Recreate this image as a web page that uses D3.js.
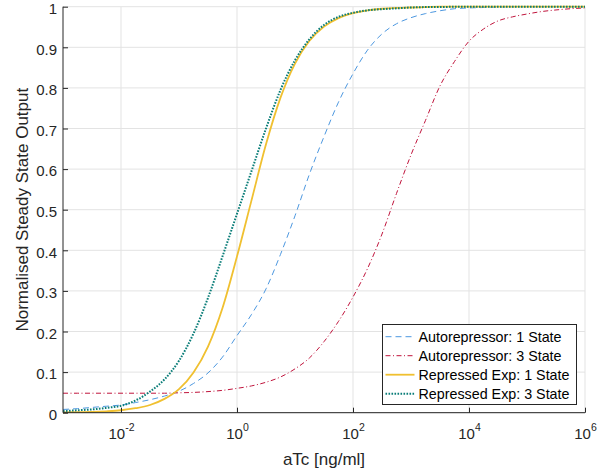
<!DOCTYPE html>
<html>
<head>
<meta charset="utf-8">
<script src="https://cdn.jsdelivr.net/npm/d3@7"></script>
<style>
  html, body { margin: 0; padding: 0; background: #fff; }
  svg { display: block; font-family: "Liberation Sans", Arial, Helvetica, sans-serif; }
</style>
</head>
<body>
<svg id="chart" width="613" height="470"></svg>
<script>
// aTc concentrations (ng/ml), quarter-decade steps from 1e-3 to 1e6
const doseExponents = [-3, -2.75, -2.5, -2.25, -2, -1.75, -1.5, -1.25, -1, -0.75, -0.5, -0.25,
  0, 0.25, 0.5, 0.75, 1, 1.25, 1.5, 1.75, 2, 2.25, 2.5, 2.75, 3, 3.25, 3.5, 3.75,
  4, 4.25, 4.5, 4.75, 5, 5.25, 5.5, 5.75, 6];
const aTc = doseExponents.map(e => Math.pow(10, e));

// Normalised steady state output for each model
const autorepressor1 = [0.008, 0.010, 0.013, 0.016, 0.019, 0.025, 0.032, 0.041, 0.053, 0.072, 0.098, 0.137,
  0.190, 0.242, 0.305, 0.390, 0.485, 0.588, 0.680, 0.765, 0.835, 0.893, 0.933, 0.958, 0.973, 0.983, 0.990, 0.995,
  0.997, 0.998, 0.999, 1.0, 1.0, 1.0, 1.0, 1.0, 1.0];
const autorepressor3 = [0.048, 0.048, 0.048, 0.048, 0.048, 0.048, 0.048, 0.048, 0.049, 0.050, 0.052, 0.055,
  0.060, 0.066, 0.075, 0.088, 0.108, 0.135, 0.175, 0.225, 0.285, 0.355, 0.440, 0.540, 0.635, 0.720, 0.805, 0.865,
  0.915, 0.945, 0.965, 0.975, 0.982, 0.988, 0.992, 0.995, 0.997];
const repressed1 = [0.001, 0.0015, 0.002, 0.0035, 0.006, 0.011, 0.019, 0.034, 0.058, 0.099, 0.163, 0.258,
  0.385, 0.523, 0.661, 0.776, 0.860, 0.916, 0.951, 0.972, 0.984, 0.991, 0.995, 0.997, 0.998, 0.999, 1.0, 1.0,
  1.0, 1.0, 1.0, 1.0, 1.0, 1.0, 1.0, 1.0, 1.0];
const repressed3 = [0.004, 0.006, 0.008, 0.012, 0.017, 0.030, 0.052, 0.082, 0.128, 0.195, 0.283, 0.385,
  0.490, 0.595, 0.700, 0.795, 0.868, 0.920, 0.955, 0.975, 0.985, 0.991, 0.994, 0.996, 0.998, 0.999, 0.999, 1.0,
  1.0, 1.0, 1.0, 1.0, 1.0, 1.0, 1.0, 1.0, 1.0];

const seriesNames = ["Autorepressor: 1 State", "Autorepressor: 3 State", "Repressed Exp: 1 State", "Repressed Exp: 3 State"];
const seriesValues = [autorepressor1, autorepressor3, repressed1, repressed3];

const xTickValues = [1e-2, 1e0, 1e2, 1e4, 1e6];
const xTickExponents = ["-2", "0", "2", "4", "6"];
const yTickValues = [0, 0.1, 0.2, 0.3, 0.4, 0.5, 0.6, 0.7, 0.8, 0.9, 1];
const yTickLabels = ["0", "0.1", "0.2", "0.3", "0.4", "0.5", "0.6", "0.7", "0.8", "0.9", "1"];

const xLabel = "aTc [ng/ml]";
const yLabel = "Normalised Steady State Output";

// line styling per series
const styles = [
  { color: "#4d98e0", width: 1, dash: "6,4" },
  { color: "#c0143c", width: 1, dash: "5,2.5,1,2.5" },
  { color: "#f0c030", width: 1.8, dash: null },
  { color: "#0a7d78", width: 2, dash: "1.6,1.4" }
];

const margin = { left: 63, right: 28, top: 6.7, bottom: 57.3 };
const W = 613, H = 470;
const svg = d3.select("#chart");

const x = d3.scaleLog().domain([1e-3, 1e6]).range([margin.left, W - margin.right]);
const y = d3.scaleLinear().domain([0, 1]).range([H - margin.bottom, margin.top]);

const axisColor = "#262626";
const gridColor = "#e3e3e3";

// grid lines
const grid = svg.append("g");
grid.selectAll("line.gx").data(xTickValues).join("line")
  .attr("x1", d => x(d)).attr("x2", d => x(d))
  .attr("y1", y(0)).attr("y2", y(1))
  .attr("stroke", gridColor).attr("stroke-width", 1);
grid.selectAll("line.gy").data(yTickValues).join("line")
  .attr("x1", x(1e-3)).attr("x2", x(1e6))
  .attr("y1", d => y(d)).attr("y2", d => y(d))
  .attr("stroke", gridColor).attr("stroke-width", 1);

// curves
const line = d3.line()
  .x((d, i) => x(aTc[i]))
  .y(d => y(d))
  .curve(d3.curveMonotoneX);

const plot = svg.append("g");
seriesValues.forEach((vals, k) => {
  const s = styles[k];
  plot.append("path")
    .datum(vals)
    .attr("d", line)
    .attr("fill", "none")
    .attr("stroke", s.color)
    .attr("stroke-width", s.width)
    .attr("stroke-dasharray", s.dash)
    .attr("stroke-linejoin", "round");
});

// axes
const xAxis = d3.axisBottom(x).tickValues(xTickValues).tickSize(-5).tickFormat(() => "");
const gx = svg.append("g").attr("transform", `translate(0,${y(0)})`).call(xAxis);
gx.attr("font-family", null);
gx.select(".domain").attr("stroke", axisColor).attr("d", `M${x(1e-3)},0H${x(1e6)}`);
gx.selectAll(".tick line").attr("stroke", axisColor);
gx.selectAll(".tick text").remove();
gx.selectAll(".tick").each(function(d, i) {
  const t = d3.select(this).append("text")
    .attr("y", 26.6)
    .attr("text-anchor", "middle")
    .attr("fill", axisColor)
    .attr("font-size", 15);
  t.append("tspan").text("10");
  t.append("tspan").attr("dy", -8.5).attr("font-size", 10.5).text(xTickExponents[i]);
});

const yAxis = d3.axisLeft(y).tickValues(yTickValues).tickSize(-5).tickPadding(6)
  .tickFormat((d, i) => yTickLabels[i]);
const gy = svg.append("g").attr("transform", `translate(${x(1e-3)},0)`).call(yAxis);
gy.attr("font-family", null);
gy.select(".domain").attr("stroke", axisColor).attr("d", `M0,${y(0)}V${y(1)}`);
gy.selectAll(".tick line").attr("stroke", axisColor);
gy.selectAll(".tick text").attr("fill", axisColor).attr("font-size", 15).attr("y", 2);

// axis labels
svg.append("text")
  .attr("x", (x(1e-3) + x(1e6)) / 2)
  .attr("y", 465)
  .attr("text-anchor", "middle")
  .attr("fill", axisColor)
  .attr("font-size", 17)
  .text(xLabel);
svg.append("text")
  .attr("transform", `translate(28,${(y(0) + y(1)) / 2}) rotate(-90)`)
  .attr("text-anchor", "middle")
  .attr("fill", axisColor)
  .attr("font-size", 17)
  .text(yLabel);

// legend
const lg = svg.append("g").attr("transform", "translate(382.5,324.5)");
lg.append("rect").attr("width", 194).attr("height", 80)
  .attr("fill", "#fff").attr("stroke", axisColor).attr("stroke-width", 1);
seriesNames.forEach((name, k) => {
  const s = styles[k];
  const cy = 12.2 + k * 19;
  lg.append("line")
    .attr("x1", 3).attr("x2", 32).attr("y1", cy).attr("y2", cy)
    .attr("stroke", s.color).attr("stroke-width", s.width)
    .attr("stroke-dasharray", s.dash);
  lg.append("text")
    .attr("x", 36).attr("y", cy).attr("dy", "0.35em")
    .attr("fill", "#000").attr("font-size", 14.3)
    .text(name);
});
</script>
</body>
</html>
